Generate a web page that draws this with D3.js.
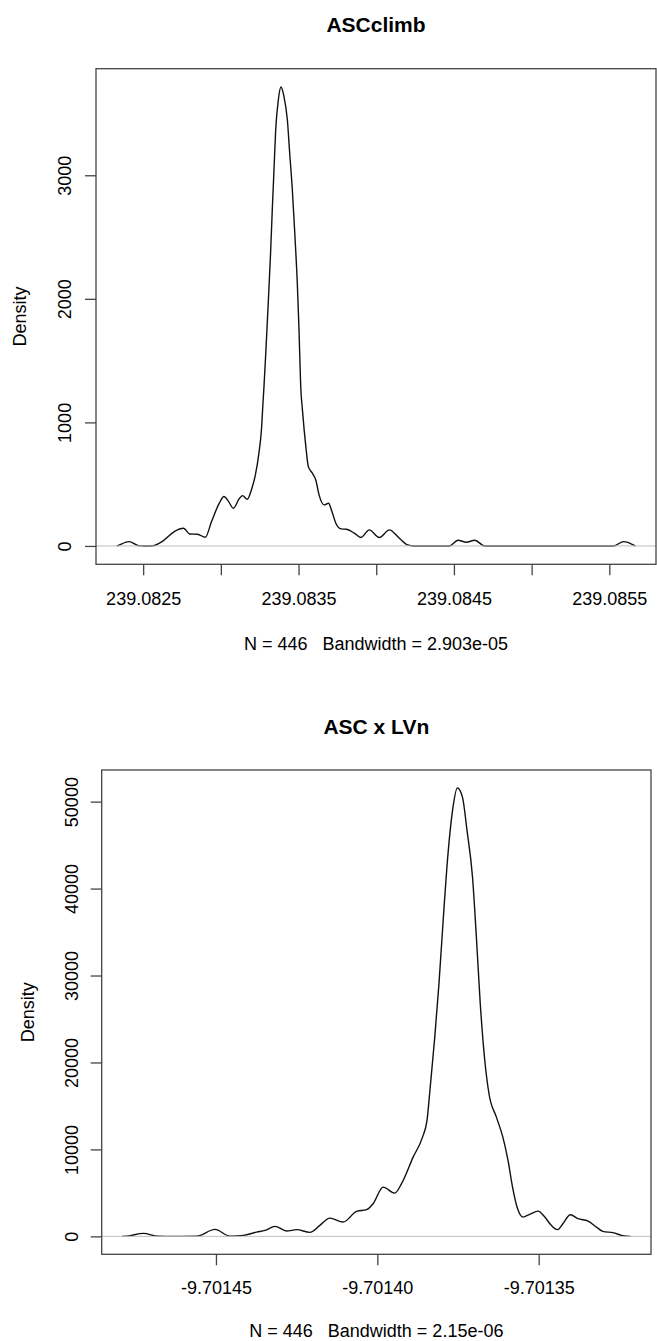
<!DOCTYPE html>
<html>
<head>
<meta charset="utf-8">
<script src="https://cdn.jsdelivr.net/npm/d3@7"></script>
<style>
  html, body { margin: 0; padding: 0; background: #fff; }
  svg { display: block; }
  text { font-family: "Liberation Sans", Arial, sans-serif; fill: #000; }
</style>
</head>
<body>
<svg id="chart" width="657" height="1341"></svg>
<script>
// ---------- Data: panel 1 (ASCclimb) ----------
const titleTop = "ASCclimb";
const subTop = "N = 446   Bandwidth = 2.903e-05";
const topX = [239.08233, 239.08234, 239.08241, 239.08247, 239.08251, 239.08256, 239.08263, 239.08270,
  239.08276, 239.08280, 239.08285, 239.08290, 239.08294, 239.08299, 239.08302, 239.08305, 239.08308,
  239.08312, 239.08314, 239.08317, 239.08320, 239.08322, 239.083245, 239.083262, 239.083271,
  239.083277, 239.083288, 239.083305, 239.083320, 239.083331, 239.083342, 239.083353, 239.083370,
  239.083387, 239.083406, 239.083428, 239.083443, 239.083460, 239.083477, 239.083492, 239.083503,
  239.083514, 239.083525, 239.083547, 239.083563, 239.083589, 239.083611, 239.083632, 239.083665,
  239.083693, 239.083715, 239.083740, 239.083773, 239.083809, 239.083859, 239.083902, 239.083955,
  239.084020, 239.084085, 239.084149, 239.084203, 239.084240, 239.084472, 239.084526, 239.084580,
  239.084634, 239.084698, 239.085527, 239.085592, 239.085667];
const topY = [0, 5, 35, 3, 0, 2, 43, 116,
  143, 97, 95, 70, 197, 346, 400, 359, 305,
  386, 407, 378, 467, 561, 751, 953, 1155,
  1277, 1533, 1965, 2370, 2721, 3045, 3368, 3611,
  3714, 3638, 3449, 3180, 2883, 2504, 2127, 1749,
  1290, 1101, 804, 642, 589, 534, 413, 332,
  346, 278, 184, 138, 135, 103, 68, 130,
  68, 130, 62, 8, 0, 0, 46, 30,
  46, 0, 0, 35, 0];
const topXTicks = [239.0825, 239.0830, 239.0835, 239.0840, 239.0845, 239.0850, 239.0855];
const topXLabels = ["239.0825", "", "239.0835", "", "239.0845", "", "239.0855"];
const topYTicks = [0, 1000, 2000, 3000];
const topYLabels = ["0", "1000", "2000", "3000"];

// ---------- Data: panel 2 (ASC x LVn) ----------
const titleBot = "ASC x LVn";
const subBot = "N = 446   Bandwidth = 2.15e-06";
const botX = [-9.7014791, -9.7014776, -9.7014725, -9.7014679, -9.7014640, -9.7014560, -9.7014503,
  -9.7014457, -9.7014415, -9.7014374, -9.7014348, -9.7014317, -9.7014281, -9.7014250, -9.7014209,
  -9.7014178, -9.7014147, -9.7014106, -9.7014064, -9.7014033, -9.7014013, -9.7013982, -9.7013946,
  -9.7013925, -9.7013889, -9.7013860, -9.7013846, -9.7013837, -9.7013822, -9.7013809, -9.7013796,
  -9.7013781, -9.7013767, -9.7013752, -9.7013736, -9.7013722, -9.7013705, -9.7013693, -9.7013681,
  -9.7013667, -9.7013654, -9.7013631, -9.7013611, -9.7013595, -9.7013581, -9.7013567, -9.7013549,
  -9.7013528, -9.7013502, -9.7013481, -9.7013461, -9.7013442, -9.7013425, -9.7013402, -9.7013378,
  -9.7013347, -9.7013321, -9.7013301, -9.7013270, -9.7013234, -9.7013215];
const botY = [0, 20, 345, 10, 0, 20, 805,
  30, 115, 494, 690, 1149, 609, 770, 460,
  1264, 2103, 1644, 2873, 3069, 3758, 5667, 4977,
  6057, 9115, 11414, 13333, 16782, 22908, 29045, 36321,
  43988, 48965, 51574, 50494, 46666, 41299, 34402, 26747,
  20230, 16402, 13713, 11414, 8736, 5667, 3368, 2218,
  2529, 2908, 2218, 1264, 770, 1460, 2494, 2030,
  1759, 1069, 575, 425, 35, 0];
const botXTicks = [-9.70145, -9.70140, -9.70135];
const botXLabels = ["-9.70145", "-9.70140", "-9.70135"];
const botYTicks = [0, 10000, 20000, 30000, 40000, 50000];
const botYLabels = ["0", "10000", "20000", "30000", "40000", "50000"];

// ---------- Drawing ----------
const svg = d3.select("#chart");

function panel(cfg) {
  const { left, right, top, bottom, xs, ys, xTicks, xLabels, yTicks, yLabels, title, sub, titleBase, subBase, ylabX } = cfg;
  const g = svg.append("g");

  // R-style 4% range extension
  const xr = d3.extent(xs), yr = [0, d3.max(ys)];
  const dx = (xr[1] - xr[0]) * 0.04, dy = (yr[1] - yr[0]) * 0.04;
  const x = d3.scaleLinear().domain([xr[0] - dx, xr[1] + dx]).range([left, right]);
  const y = d3.scaleLinear().domain([yr[0] - dy, yr[1] + dy]).range([bottom, top]);

  const pts = xs.map((v, i) => [v, ys[i]]);
  const line = d3.line().x(d => x(d[0])).y(d => y(d[1])).curve(d3.curveMonotoneX);

  g.append("path").datum(pts).attr("d", line)
    .attr("fill", "none").attr("stroke", "#111").attr("stroke-width", 1.4)
    .attr("stroke-linejoin", "round");

  // zero line drawn on top (as R does)
  g.append("line").attr("x1", left).attr("x2", right)
    .attr("y1", y(0)).attr("y2", y(0))
    .attr("stroke", "#bebebe").attr("stroke-width", 1);

  // box
  g.append("rect").attr("x", left).attr("y", top)
    .attr("width", right - left).attr("height", bottom - top)
    .attr("fill", "none").attr("stroke", "#444").attr("stroke-width", 1.3);

  // x axis
  const xa = g.append("g").attr("transform", `translate(0,${bottom})`)
    .call(d3.axisBottom(x).tickValues(xTicks).tickSize(11).tickSizeOuter(0)
      .tickFormat((d, i) => xLabels[i]));
  xa.select(".domain").remove();
  xa.selectAll(".tick line").attr("stroke", "#444").attr("stroke-width", 1.3);
  xa.selectAll(".tick text").attr("y", 0).attr("dy", 0)
    .attr("transform", `translate(0,${cfg.xLabBase - bottom})`)
    .style("font-size", "18px").style("font-family", '"Liberation Sans", Arial, sans-serif')
    .attr("fill", "#000");

  // y axis
  const ya = g.append("g").attr("transform", `translate(${left},0)`)
    .call(d3.axisLeft(y).tickValues(yTicks).tickSize(11).tickSizeOuter(0)
      .tickFormat((d, i) => yLabels[i]));
  ya.select(".domain").remove();
  ya.selectAll(".tick line").attr("stroke", "#444").attr("stroke-width", 1.3);
  ya.selectAll(".tick text")
    .attr("x", 0).attr("y", -cfg.yLabOff).attr("dy", 0)
    .attr("transform", "rotate(-90)").attr("text-anchor", "middle")
    .style("font-size", "18px").style("font-family", '"Liberation Sans", Arial, sans-serif')
    .attr("fill", "#000");

  const cx = (left + right) / 2;
  g.append("text").attr("x", cx).attr("y", titleBase).attr("text-anchor", "middle")
    .style("font-size", "21px").style("font-weight", "bold").text(title);
  g.append("text").attr("x", cx).attr("y", subBase).attr("text-anchor", "middle")
    .attr("xml:space", "preserve").style("white-space", "pre")
    .style("font-size", "18px").text(sub);
  g.append("text")
    .attr("transform", `translate(${ylabX},${(top + bottom) / 2}) rotate(-90)`)
    .attr("text-anchor", "middle").style("font-size", "18px").text("Density");
}

panel({
  left: 96, right: 656, top: 68.7, bottom: 564.3,
  xs: topX, ys: topY, xTicks: topXTicks, xLabels: topXLabels, yTicks: topYTicks, yLabels: topYLabels,
  title: titleTop, sub: subTop, titleBase: 32, subBase: 650, xLabBase: 605, yLabOff: 25, ylabX: 26
});

panel({
  left: 101.7, right: 651, top: 770, bottom: 1254.3,
  xs: botX, ys: botY, xTicks: botXTicks, xLabels: botXLabels, yTicks: botYTicks, yLabels: botYLabels,
  title: titleBot, sub: subBot, titleBase: 734, subBase: 1337, xLabBase: 1294, yLabOff: 24, ylabX: 33.5
});
</script>
</body>
</html>
